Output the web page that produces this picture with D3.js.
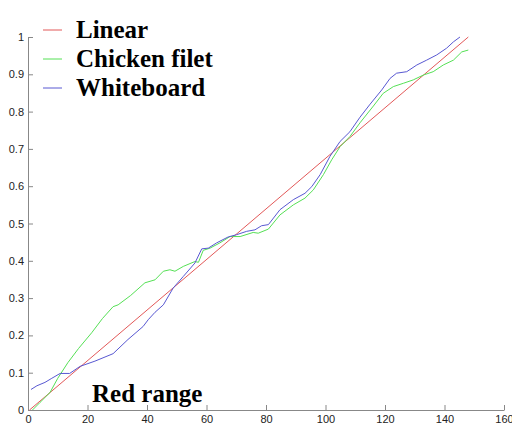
<!DOCTYPE html>
<html>
<head>
<meta charset="utf-8">
<script src="https://cdn.jsdelivr.net/npm/d3@7"></script>
<style>
  body { margin: 0; background: #fff; }
  .axis text { font-family: Arial, "Liberation Sans", sans-serif; font-size: 11px; fill: #222; }
  .axis path, .axis line { stroke: #888; }
  .big { font-family: "Liberation Serif", "Times New Roman", serif; font-weight: bold; font-size: 25px; fill: #000; }
</style>
</head>
<body>
<script>
const seriesNames = ['Linear', 'Chicken filet', 'Whiteboard'];
const seriesColors = ['#e25858', '#55e055', '#5858d2'];
const xTicks = [0, 20, 40, 60, 80, 100, 120, 140, 160];
const yTicks = [0, 0.1, 0.2, 0.3, 0.4, 0.5, 0.6, 0.7, 0.8, 0.9, 1];

const linear = [[0.5, 0], [148, 1]];
const chicken = [
  [1.5, 0], [4, 0.02], [7.4, 0.047], [10, 0.085], [13.4, 0.127], [17, 0.165],
  [21.4, 0.207], [25, 0.245], [28.6, 0.277], [30.3, 0.282], [34.5, 0.307], [39.3, 0.341],
  [42.7, 0.349], [45.5, 0.372], [47.7, 0.376], [49.4, 0.372], [52.2, 0.385], [56.1, 0.398],
  [57.3, 0.396], [58.9, 0.428], [61.2, 0.434], [64.5, 0.448], [67.9, 0.465], [71.3, 0.465],
  [75.7, 0.476], [77.4, 0.474], [80.8, 0.485], [84.7, 0.523], [89.2, 0.55], [93.1, 0.568],
  [95.9, 0.59], [99.3, 0.631], [102.1, 0.671], [104.9, 0.706], [108.2, 0.733], [111.6, 0.77],
  [116.1, 0.815], [119.4, 0.849], [122.8, 0.867], [126.2, 0.876], [129.5, 0.885], [132.9, 0.898],
  [136.2, 0.907], [139.6, 0.925], [143, 0.938], [145.8, 0.96], [148, 0.965]
];
const whiteboard = [
  [1, 0.055], [3, 0.065], [5.7, 0.074], [8, 0.085], [10.8, 0.098], [14, 0.098],
  [17.5, 0.117], [22.5, 0.131], [28.6, 0.151], [33.6, 0.189], [38.7, 0.224], [40.4, 0.242],
  [42.7, 0.262], [45.5, 0.282], [48.8, 0.327], [52.2, 0.358], [56.1, 0.394], [58.4, 0.432],
  [60.6, 0.434], [63.4, 0.448], [67.3, 0.464], [70.1, 0.47], [73.5, 0.479], [76.3, 0.483],
  [78.5, 0.494], [80.8, 0.497], [84.7, 0.537], [89.2, 0.564], [93.1, 0.581], [95.4, 0.599],
  [98.2, 0.631], [101.5, 0.68], [104.9, 0.72], [108.2, 0.746], [111.6, 0.785], [115, 0.82],
  [118.9, 0.858], [121.7, 0.889], [123.9, 0.903], [127.3, 0.907], [130.7, 0.925], [134, 0.938],
  [137.4, 0.952], [140.7, 0.97], [143, 0.987], [145.2, 1.0]
];
const allSeries = [linear, chicken, whiteboard];

let margins = { top: 37, right: 8, bottom: 16, left: 28 },
  width = 512 - margins.left - margins.right,
  height = 426 - margins.top - margins.bottom;

const x = d3.scaleLinear().domain([0, 160]).range([0, width]);
const y = d3.scaleLinear().domain([0, 1]).range([height, 0]);

const svg = d3.select('body').append('svg')
  .attr('width', 512).attr('height', 426)
  .append('g')
  .attr('transform', 'translate(' + margins.left + ',' + margins.top + ')');

svg.append('g')
  .attr('class', 'axis')
  .attr('transform', 'translate(0,' + height + ')')
  .call(d3.axisBottom(x).tickValues(xTicks).tickSizeInner(-5).tickSizeOuter(0).tickPadding(4))
  .selectAll('text').attr('dy', '0.85em');

svg.append('g')
  .attr('class', 'axis')
  .call(d3.axisLeft(y).tickValues(yTicks).tickSizeInner(-5).tickSizeOuter(0).tickPadding(4).tickFormat(d3.format('')));

const line = d3.line().x(d => x(d[0])).y(d => y(d[1]));

svg.selectAll('.series')
  .data(allSeries)
  .enter()
  .append('path')
  .attr('class', 'series')
  .attr('fill', 'none')
  .attr('stroke', (d, i) => seriesColors[i])
  .attr('stroke-width', 1)
  .attr('d', line);

// legend
const legend = svg.selectAll('.legend')
  .data(seriesNames)
  .enter()
  .append('g')
  .attr('transform', (d, i) => 'translate(0,' + (-7 + i * 29) + ')');

legend.append('line')
  .attr('x1', 15).attr('x2', 34)
  .attr('stroke', (d, i) => seriesColors[i]);

legend.append('text')
  .attr('class', 'big')
  .attr('x', 48)
  .attr('y', 8)
  .text(d => d);

svg.append('text')
  .attr('class', 'big')
  .attr('x', 64)
  .attr('y', height - 8)
  .text('Red range');
</script>
</body>
</html>
